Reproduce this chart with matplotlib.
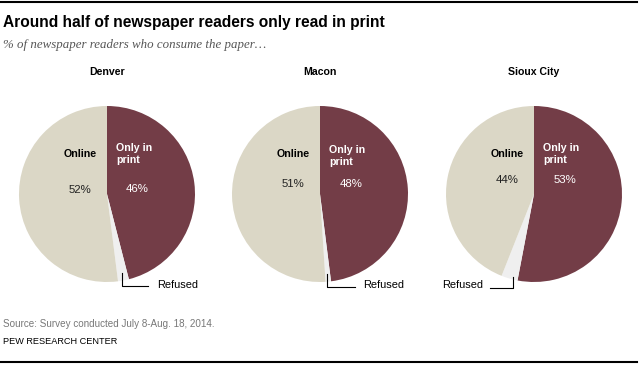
import matplotlib.pyplot as plt

cities = ["Denver", "Macon", "Sioux City"]
printOnly = [46, 48, 53]
refused = [2, 1, 3]
online = [52, 51, 44]

PRINT_COLOR = "#733d47"
ONLINE_COLOR = "#dbd7c6"
REFUSED_COLOR = "#efefef"

H = 366


def Y(y):
    # convert pixel-from-top into data y
    return H - y


fig = plt.figure(figsize=(6.4, 3.66), dpi=100)
ax = fig.add_axes([0, 0, 1, 1])
plt.rcParams["font.family"] = ["Liberation Sans", "DejaVu Sans"]

centersX = [107, 320, 534]
centerY = 194
radius = 88

# label layout per pie (pixel offsets relative to page)
onlineLabelX = [80, 293, 507]
onlineLabelY = [154, 154, 154]
onlinePctY = [190, 184, 180]
printLabelX = [116, 329, 543]
printLabelY = [147, 149, 147]
printPctX = [137, 351, 565]
printPctY = [189, 184, 180]

for i, city in enumerate(cities):
    cx = centersX[i]
    ax.pie([printOnly[i], refused[i], online[i]],
           colors=[PRINT_COLOR, REFUSED_COLOR, ONLINE_COLOR],
           startangle=90, counterclock=False,
           center=(cx, Y(centerY)), radius=radius,
           wedgeprops=dict(linewidth=0))
    ax.text(cx, Y(72), city, ha="center", va="center", fontsize=7.6, fontweight="bold")
    ax.text(onlineLabelX[i], Y(onlineLabelY[i]), "Online", ha="center", va="center",
            fontsize=7.7, fontweight="bold", color="black")
    ax.text(onlineLabelX[i], Y(onlinePctY[i]), "{}%".format(online[i]), ha="center", va="center",
            fontsize=8.2, color="#222222")
    ax.text(printLabelX[i], Y(printLabelY[i] + 7), "Only in\nprint", ha="left", va="center",
            fontsize=7.7, fontweight="bold", color="white", linespacing=1.2)
    ax.text(printPctX[i], Y(printPctY[i]), "{}%".format(printOnly[i]), ha="center", va="center",
            fontsize=8.2, color="white")

# refused callouts
ax.plot([122, 122, 148], [Y(273), Y(286), Y(286)], color="black", lw=0.8)
ax.text(157, Y(285), "Refused", ha="left", va="center", fontsize=7.9)
ax.plot([327, 327, 355], [Y(274), Y(287), Y(287)], color="black", lw=0.8)
ax.text(363, Y(285), "Refused", ha="left", va="center", fontsize=7.9)
ax.plot([513, 513, 490], [Y(277), Y(288), Y(288)], color="black", lw=0.8)
ax.text(483, Y(285), "Refused", ha="right", va="center", fontsize=7.9)

# title, subtitle, footer
ax.text(3, Y(23), "Around half of newspaper readers only read in print", ha="left", va="center",
        fontsize=11.2, fontweight="bold")
ax.text(3, Y(45), "% of newspaper readers who consume the paper\u2026", ha="left", va="center",
        fontsize=9.3, style="italic", family=["Liberation Serif", "DejaVu Serif"], color="#555555")
ax.text(3, Y(324), "Source: Survey conducted July 8-Aug. 18, 2014.", ha="left", va="center",
        fontsize=7.1, color="#777777")
ax.text(3, Y(342), "PEW RESEARCH CENTER", ha="left", va="center", fontsize=6.6, color="black")

ax.plot([0, 637], [Y(2), Y(2)], color="black", lw=1.5)
ax.plot([0, 637], [Y(362), Y(362)], color="black", lw=1.5)

ax.set_xlim(0, 640)
ax.set_ylim(0, H)
ax.set_aspect("auto")
ax.axis("off")

plt.savefig("out.png", dpi=100)
